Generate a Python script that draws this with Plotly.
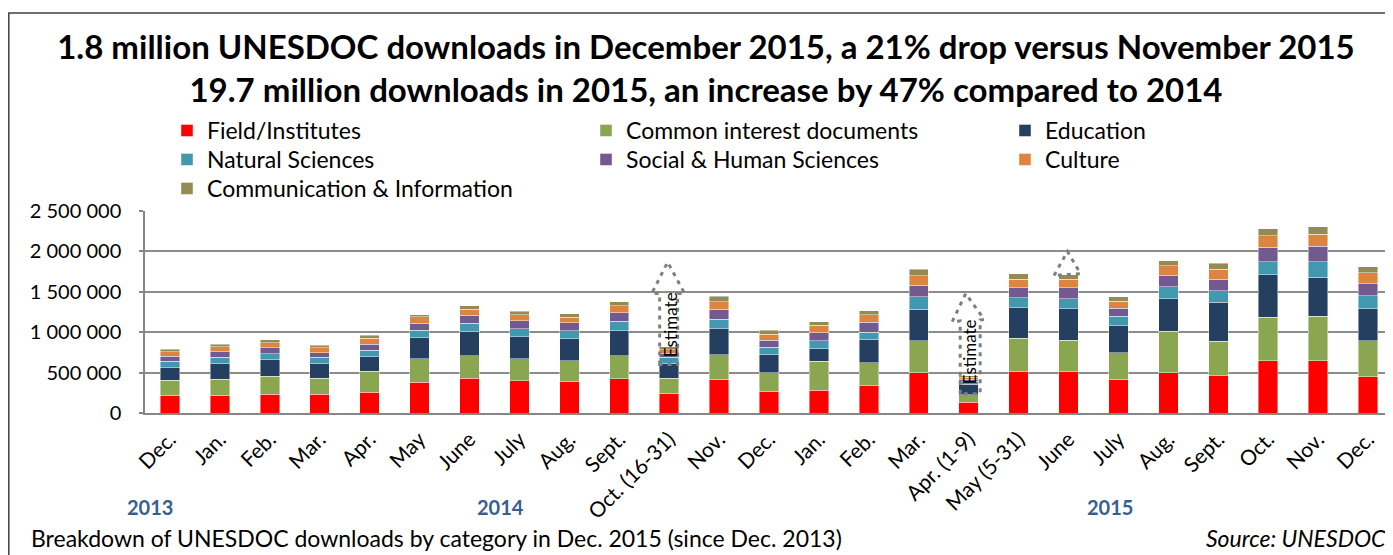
import plotly.graph_objects as go

# ---------------- data (downloads, in thousands) ----------------
periods = ["2013-12", "2014-01", "2014-02", "2014-03", "2014-04", "2014-05", "2014-06",
           "2014-07", "2014-08", "2014-09", "2014-10", "2014-11", "2014-12", "2015-01",
           "2015-02", "2015-03", "2015-04", "2015-05", "2015-06", "2015-07", "2015-08",
           "2015-09", "2015-10", "2015-11", "2015-12"]
month_labels = ["Dec.", "Jan.", "Feb.", "Mar.", "Apr.", "May", "June", "July", "Aug.", "Sept.",
                "Oct. (16-31)", "Nov.", "Dec.", "Jan.", "Feb.", "Mar.", "Apr. (1-9)", "May (5-31)",
                "June", "July", "Aug.", "Sept.", "Oct.", "Nov.", "Dec."]

field_institutes = [217, 217, 230, 230, 259, 378, 431, 398, 390, 427, 246, 415, 267, 279, 341, 501, 131, 513, 513, 415, 501, 460, 644, 644, 447]
common_interest = [189, 202, 222, 201, 258, 291, 279, 271, 254, 279, 185, 303, 234, 361, 279, 394, 94, 415, 386, 332, 509, 427, 542, 555, 448]
education = [156, 193, 209, 181, 181, 263, 296, 275, 276, 312, 185, 325, 221, 156, 287, 390, 132, 373, 390, 333, 402, 484, 522, 484, 394]
natural_sciences = [78, 78, 74, 78, 78, 94, 102, 99, 98, 115, 74, 115, 91, 99, 95, 152, 33, 128, 127, 115, 148, 140, 164, 189, 164]
social_human = [62, 69, 74, 57, 78, 86, 99, 98, 99, 107, 49, 127, 86, 98, 123, 143, 28, 123, 132, 102, 143, 147, 181, 193, 144]
culture = [57, 58, 61, 58, 74, 78, 78, 74, 69, 86, 41, 94, 78, 91, 90, 119, 25, 106, 110, 86, 120, 124, 139, 148, 139]
comm_info = [33, 37, 37, 32, 37, 25, 45, 45, 41, 53, 40, 66, 45, 45, 53, 78, 20, 66, 54, 54, 61, 73, 90, 90, 74]

series_names = ["Field/Institutes", "Common interest documents", "Education", "Natural Sciences",
                "Social & Human Sciences", "Culture", "Communication & Information"]
series_values = [field_institutes, common_interest, education, natural_sciences,
                 social_human, culture, comm_info]
series_colors = ["#FF0000", "#8BA650", "#243F60", "#4198AF", "#72598F", "#DD843F", "#948A54"]

year_labels = ["2013", "2014", "2015"]

# ---------------- layout geometry ----------------
OFF = 8                      # page body margin
W, H = 1393 - OFF, 555 - OFF
ML, MR, MT, MB = 137, 0, 203, 142
PW, PH = W - ML - MR, H - MT - MB
FONT = "Lato"

# legend grid (page pixels): 3 columns, row-major order
LEG_COLS_X = [167, 586, 1005]
LEG_ROWS_TOP = [109, 138, 167]


def px_x(px):
    """page pixel x -> paper x"""
    return (px - OFF - ML) / PW


def px_y(py):
    """page pixel y -> paper y"""
    return (H - MB - (py - OFF)) / PH


fig = go.Figure()
legend_layout = {}
for k, (name, vals, col) in enumerate(zip(series_names, series_values, series_colors)):
    lg = "legend" if k == 0 else f"legend{k + 1}"
    fig.add_trace(go.Bar(
        x=periods, y=[v * 1000 for v in vals], name=name, legend=lg, showlegend=True,
        marker=dict(color=col, line=dict(color="rgba(255,255,255,0.55)", width=0.8)),
    ))
    legend_layout[lg] = dict(
        orientation="v", xanchor="left", yanchor="top",
        x=px_x(LEG_COLS_X[k % 3]), y=px_y(LEG_ROWS_TOP[k // 3]),
        bgcolor="rgba(0,0,0,0)", font=dict(family=FONT, size=23, color="#000"),
        itemwidth=30,
    )

fig.update_layout(
    width=W, height=H,
    margin=dict(l=ML, r=MR, t=MT, b=MB),
    paper_bgcolor="white", plot_bgcolor="white",
    barmode="stack", bargap=0.61,
    separators=". ",
    showlegend=True,
    font=dict(family=FONT, size=20, color="#000"),
    title=dict(
        text="1.8 million UNESDOC downloads in December 2015, a 21% drop versus November 2015"
             "<br>19.7 million downloads in 2015, an increase by 47% compared to 2014",
        font=dict(family=FONT, size=33, color="#000", weight="bold"),
        xref="container", yref="container", x=(706 - OFF) / W, xanchor="center",
        y=1 - 51 / H, yanchor="middle",
    ),
    xaxis=dict(
        type="category", range=[-0.5, len(periods) - 0.5],
        tickvals=periods, ticktext=month_labels, tickangle=-45,
        tickfont=dict(family=FONT, size=21, color="#000"),
        showline=True, linecolor="#868686", linewidth=1.5,
        showgrid=False, ticks="", ticklabelstandoff=4,
    ),
    yaxis=dict(
        range=[0, 2500000], dtick=500000, tickformat=",d",
        tickfont=dict(family=FONT, size=20, color="#000"),
        showline=True, linecolor="#868686", linewidth=1.5,
        showgrid=True, gridcolor="#8C8C8C", gridwidth=1.5,
        ticks="outside", ticklen=4, tickcolor="#868686", tickwidth=1.5,
        ticklabelstandoff=14, zeroline=False,
    ),
    **legend_layout,
)

# outer chart border (top and left visible)
fig.add_shape(type="rect", xref="paper", yref="paper",
              x0=px_x(OFF + 0.8), x1=px_x(1500), y0=px_y(700), y1=px_y(13),
              line=dict(color="#404040", width=1.5), layer="below")

# "Estimate" block arrows (dotted outlines)
dot = dict(color="#7F7F7F", width=3, dash="4px,5px")
oct_i, apr_i, jun_i = 10, 16, 18
fig.add_shape(type="path", xref="x", yref="y", line=dot,
              path=(f"M{oct_i-0.19},600000 L{oct_i-0.19},1478000 L{oct_i-0.35},1478000 "
                    f"L{oct_i-0.03},1867000 L{oct_i+0.31},1478000 L{oct_i+0.17},1478000 "
                    f"L{oct_i+0.17},600000 Z"))
fig.add_shape(type="path", xref="x", yref="y", line=dot,
              path=(f"M{apr_i-0.17},238000 L{apr_i-0.17},1140000 L{apr_i-0.33},1130000 "
                    f"L{apr_i-0.06},1478000 L{apr_i+0.31},1158000 L{apr_i+0.23},1150000 "
                    f"L{apr_i+0.23},238000 Z"))
fig.add_shape(type="path", xref="x", yref="y", line=dot,
              path=(f"M{jun_i-0.29},1703000 L{jun_i-0.02},2000000 L{jun_i+0.24},1724000 Z"))

annotations = [
    dict(x=oct_i + 0.02, y=1088000, xref="x", yref="y", text="Estimate", textangle=-90,
         showarrow=False, font=dict(family=FONT, size=17, color="#000")),
    dict(x=apr_i + 0.02, y=760000, xref="x", yref="y", text="Estimate", textangle=-90,
         showarrow=False, font=dict(family=FONT, size=17, color="#000")),
]
for txt, cx in zip(year_labels, [149.5, 500, 1110]):
    annotations.append(dict(x=px_x(cx), y=px_y(507), xref="paper", yref="paper", text=txt,
                            showarrow=False, xanchor="center", yanchor="middle",
                            font=dict(family=FONT, size=20, color="#376092", weight="bold")))
annotations.append(dict(x=px_x(29), y=px_y(538), xref="paper", yref="paper",
                        text="Breakdown of UNESDOC downloads by category in Dec. 2015 (since Dec. 2013)",
                        showarrow=False, xanchor="left", yanchor="middle",
                        font=dict(family=FONT, size=23, color="#000")))
annotations.append(dict(x=px_x(1388), y=px_y(538), xref="paper", yref="paper",
                        text="<i>Source: UNESDOC</i>",
                        showarrow=False, xanchor="right", yanchor="middle",
                        font=dict(family=FONT, size=23, color="#000")))
fig.update_layout(annotations=annotations)

fig.write_html("out.html")
